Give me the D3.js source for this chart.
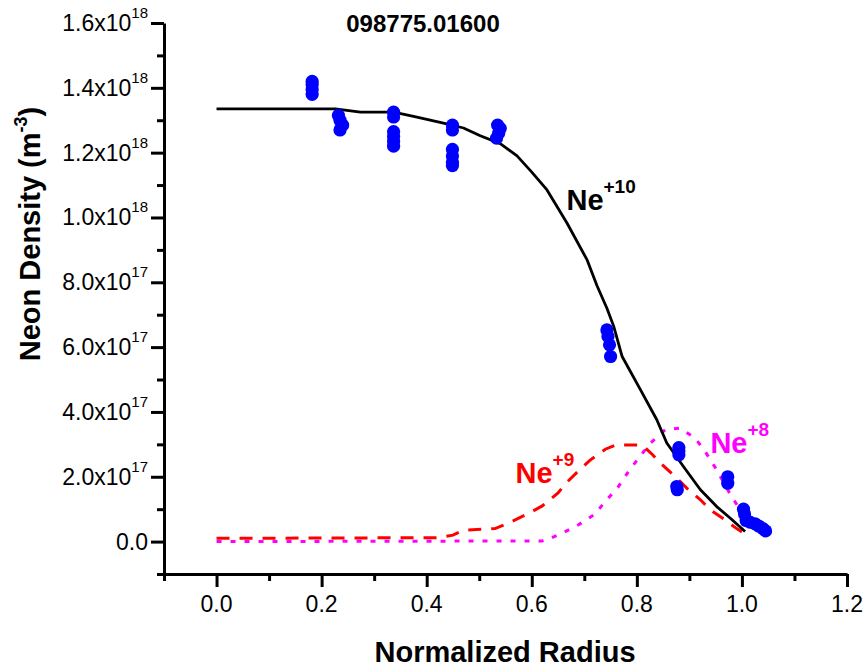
<!DOCTYPE html>
<html>
<head>
<meta charset="utf-8">
<script src="https://cdn.jsdelivr.net/npm/d3@7"></script>
<style>
  html, body { margin: 0; padding: 0; background: #fff; }
  svg { display: block; font-family: "Liberation Sans", Arial, sans-serif; }
</style>
</head>
<body>
<svg id="chart" width="865" height="668"></svg>
<script>
// Densities are in units of 1e18 m^-3.
const title = "098775.01600";

// Ne+10 model profile (solid black)
const ne10Radius  = [0, 0.226, 0.274, 0.337, 0.375, 0.432, 0.47, 0.502, 0.54, 0.572, 0.6, 0.629, 0.667, 0.705, 0.724, 0.743, 0.756, 0.772, 0.807, 0.838, 0.857, 0.889, 0.921, 0.952, 0.978, 1.006];
const ne10Density = [1.335, 1.335, 1.325, 1.325, 1.312, 1.291, 1.276, 1.252, 1.228, 1.19, 1.14, 1.085, 0.983, 0.87, 0.79, 0.72, 0.664, 0.571, 0.468, 0.376, 0.304, 0.231, 0.16, 0.108, 0.072, 0.031];

// Ne+9 model profile (red dashed)
const ne9Radius  = [0, 0.42, 0.45, 0.47, 0.53, 0.56, 0.6, 0.62, 0.65, 0.665, 0.69, 0.71, 0.74, 0.76, 0.81, 0.83, 0.845, 0.876, 0.895, 0.921, 0.94, 0.968, 0.99, 1.0];
const ne9Density = [0.01, 0.012, 0.02, 0.035, 0.04, 0.06, 0.092, 0.11, 0.15, 0.18, 0.22, 0.25, 0.285, 0.298, 0.298, 0.268, 0.242, 0.196, 0.165, 0.129, 0.098, 0.067, 0.04, 0.03];

// Ne+8 model profile (magenta dotted)
const ne8Radius  = [0, 0.62, 0.635, 0.658, 0.689, 0.718, 0.743, 0.765, 0.784, 0.803, 0.826, 0.854, 0.883, 0.911, 0.93, 0.949, 0.98, 1.0];
const ne8Density = [0, 0.002, 0.01, 0.026, 0.052, 0.082, 0.129, 0.17, 0.216, 0.257, 0.304, 0.345, 0.35, 0.319, 0.278, 0.229, 0.14, 0.09];

// Measured Ne+10 densities (blue dots)
const measRadius  = [0.182, 0.182, 0.182, 0.182,
                     0.232, 0.235, 0.24, 0.235,
                     0.337, 0.337, 0.337, 0.337, 0.337, 0.337,
                     0.449, 0.449, 0.449, 0.449, 0.449, 0.449,
                     0.535, 0.54, 0.537, 0.533,
                     0.743, 0.745, 0.748, 0.75,
                     0.88, 0.88, 0.88, 0.876, 0.877,
                     0.973, 0.973,
                     1.003, 1.005, 1.008, 1.015, 1.025, 1.032, 1.04, 1.045];
const measDensity = [1.42, 1.41, 1.395, 1.38,
                     1.315, 1.30, 1.285, 1.27,
                     1.325, 1.31, 1.265, 1.25, 1.235, 1.22,
                     1.285, 1.27, 1.21, 1.19, 1.17, 1.16,
                     1.285, 1.275, 1.26, 1.245,
                     0.653, 0.633, 0.607, 0.571,
                     0.29, 0.28, 0.268, 0.17, 0.16,
                     0.20, 0.18,
                     0.10, 0.085, 0.065, 0.06, 0.055, 0.048, 0.04, 0.033];

// Axis ticks
const xTicks = [0, 0.2, 0.4, 0.6, 0.8, 1.0, 1.2];
const xTickLabels = ["0.0", "0.2", "0.4", "0.6", "0.8", "1.0", "1.2"];
const xMinorTicks = [-0.1, 0.1, 0.3, 0.5, 0.7, 0.9, 1.1];
const yTicks = [0, 0.2, 0.4, 0.6, 0.8, 1.0, 1.2, 1.4, 1.6];
const yTickMantissa = ["0.0", "2.0x10", "4.0x10", "6.0x10", "8.0x10", "1.0x10", "1.2x10", "1.4x10", "1.6x10"];
const yTickExponent = ["", "17", "17", "17", "17", "18", "18", "18", "18"];
const yMinorTicks = [-0.1, 0.1, 0.3, 0.5, 0.7, 0.9, 1.1, 1.3, 1.5];

// Species labels: [text, superscript, radius, density, colour]
const labelText  = ["Ne", "Ne", "Ne"];
const labelSup   = ["+10", "+9", "+8"];
const labelX     = [0.666, 0.569, 0.94];
const labelY     = [1.024, 0.181, 0.274];
const labelColor = ["#000000", "#ff0000", "#ff00ff"];

const svg = d3.select("#chart");
const x = d3.scaleLinear().domain([-0.1, 1.2]).range([164, 847]);
const y = d3.scaleLinear().domain([-0.1, 1.6]).range([574, 23]);

const zip = (xs, ys) => xs.map((v, i) => [v, ys[i]]);
const line = d3.line().x(d => x(d[0])).y(d => y(d[1]));

// Model curves
svg.append("path").datum(zip(ne8Radius, ne8Density))
  .attr("d", line).attr("fill", "none")
  .attr("stroke", "#ff00ff").attr("stroke-width", 3)
  .attr("stroke-dasharray", "5,9");
svg.append("path").datum(zip(ne9Radius, ne9Density))
  .attr("d", line).attr("fill", "none")
  .attr("stroke", "#ff0000").attr("stroke-width", 3)
  .attr("stroke-dasharray", "13,10");
svg.append("path").datum(zip(ne10Radius, ne10Density))
  .attr("d", line).attr("fill", "none")
  .attr("stroke", "#000000").attr("stroke-width", 2.8)
  .attr("stroke-linejoin", "round");

// Measurements
svg.append("g").selectAll("circle")
  .data(zip(measRadius, measDensity))
  .join("circle")
  .attr("cx", d => x(d[0])).attr("cy", d => y(d[1]))
  .attr("r", 6.6).attr("fill", "#0000ff");

// Axes
function styleAxis(g) {
  g.select(".domain").attr("stroke", "#000").attr("stroke-width", 3);
  g.selectAll(".tick line").attr("stroke", "#000").attr("stroke-width", 3);
  g.selectAll(".tick text").remove();
}
const xAxisG = svg.append("g").attr("transform", "translate(0,574)");
xAxisG.call(d3.axisBottom(x).tickValues(xMinorTicks).tickSize(7).tickSizeOuter(0).tickFormat(""));
styleAxis(xAxisG);
const xMajorG = svg.append("g").attr("transform", "translate(0,574)");
xMajorG.call(d3.axisBottom(x).tickValues(xTicks).tickSize(13).tickSizeOuter(0).tickFormat(""));
styleAxis(xMajorG);
xMajorG.select(".domain").remove();

const yAxisG = svg.append("g").attr("transform", "translate(164,0)");
yAxisG.call(d3.axisLeft(y).tickValues(yMinorTicks).tickSize(7).tickSizeOuter(0).tickFormat(""));
styleAxis(yAxisG);
const yMajorG = svg.append("g").attr("transform", "translate(164,0)");
yMajorG.call(d3.axisLeft(y).tickValues(yTicks).tickSize(13).tickSizeOuter(0).tickFormat(""));
styleAxis(yMajorG);
yMajorG.select(".domain").remove();

// Tick labels
svg.append("g").selectAll("text")
  .data(xTicks)
  .join("text")
  .attr("x", d => x(d)).attr("y", 612)
  .attr("text-anchor", "middle")
  .attr("font-size", 23)
  .text((d, i) => xTickLabels[i]);

const yLab = svg.append("g").selectAll("text")
  .data(yTicks)
  .join("text")
  .attr("x", 148).attr("y", d => y(d) + 8)
  .attr("text-anchor", "end")
  .attr("font-size", 23);
yLab.append("tspan").text((d, i) => yTickMantissa[i]);
yLab.append("tspan")
  .attr("font-size", 15).attr("dy", -13)
  .text((d, i) => yTickExponent[i]);

// Axis titles
svg.append("text")
  .attr("x", 505).attr("y", 662)
  .attr("text-anchor", "middle")
  .attr("font-size", 29).attr("font-weight", "bold")
  .text("Normalized Radius");

const yTitle = svg.append("text")
  .attr("transform", "translate(40,234) rotate(-90)")
  .attr("text-anchor", "middle")
  .attr("font-size", 29).attr("font-weight", "bold");
yTitle.append("tspan").text("Neon Density (m");
yTitle.append("tspan").attr("font-size", 18).attr("dy", -13).text("-3");
yTitle.append("tspan").attr("dy", 13).text(")");

// Chart title
svg.append("text")
  .attr("x", 423).attr("y", 32)
  .attr("text-anchor", "middle")
  .attr("font-size", 24).attr("font-weight", "bold")
  .text(title);

// Species labels
const lab = svg.append("g").selectAll("text")
  .data(labelText)
  .join("text")
  .attr("x", (d, i) => x(labelX[i])).attr("y", (d, i) => y(labelY[i]))
  .attr("font-weight", "bold")
  .attr("fill", (d, i) => labelColor[i]);
lab.append("tspan").attr("font-size", 29).text(d => d);
lab.append("tspan").attr("font-size", 19).attr("dy", -17).text((d, i) => labelSup[i]);
</script>
</body>
</html>
